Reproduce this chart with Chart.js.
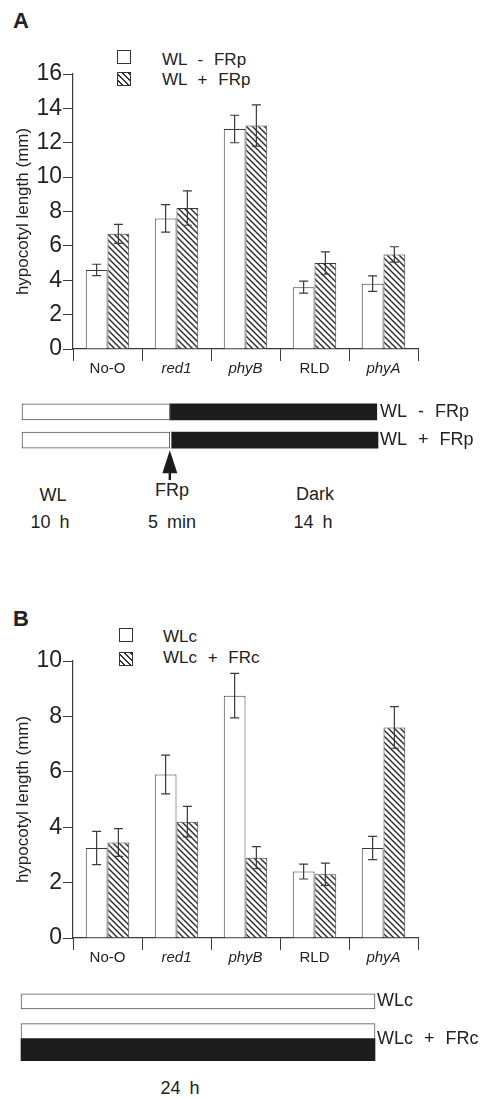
<!DOCTYPE html>
<html>
<head>
<meta charset="utf-8">
<script src="https://cdn.jsdelivr.net/npm/chart.js@4.4.1/dist/chart.umd.min.js"></script>
<style>
  body { margin: 0; background: #fff; }
  #page { position: relative; width: 483px; height: 1099px; overflow: hidden; font-family: "Liberation Sans", Arial, sans-serif; color: #222; }
  canvas { position: absolute; left: 0; }
  .txt { position: absolute; white-space: nowrap; line-height: 1; transform: translate(-50%, -50%); font-size: 18px; word-spacing: 4px; }
  .lbl { position: absolute; white-space: nowrap; line-height: 1; transform: translateY(-50%); font-size: 17px; word-spacing: 6px; }
  .panel { position: absolute; white-space: nowrap; line-height: 1; transform: translateY(-50%); font-size: 22px; font-weight: bold; }
  .sw { position: absolute; width: 12px; height: 12px; border: 1px solid #333; background: #fff; }
  .sw.hatch { background: repeating-linear-gradient(45deg, #fff 0 2.6px, #333 2.6px 4.2px); }
</style>
</head>
<body>
<div id="page">
  <div class="panel" style="left:13px;top:21px">A</div>
  <div class="sw" style="left:117px;top:50px"></div>
  <div class="sw hatch" style="left:117px;top:72px"></div>
  <div class="lbl" style="left:162px;top:59px">WL - FRp</div>
  <div class="lbl" style="left:162px;top:79px">WL + FRp</div>
  <canvas id="chartA" width="483" height="385" style="top:0"></canvas>
  <canvas id="timeA" width="483" height="95" style="top:385px"></canvas>
  <div class="txt" style="left:53px;top:495px">WL</div>
  <div class="txt" style="left:50px;top:522px">10 h</div>
  <div class="txt" style="left:172px;top:490px">FRp</div>
  <div class="txt" style="left:172px;top:522px">5 min</div>
  <div class="txt" style="left:315px;top:494px">Dark</div>
  <div class="txt" style="left:313px;top:522px">14 h</div>

  <div class="panel" style="left:13px;top:619px">B</div>
  <div class="sw" style="left:119px;top:628px"></div>
  <div class="sw hatch" style="left:119px;top:652px"></div>
  <div class="lbl" style="left:163px;top:636px">WLc</div>
  <div class="lbl" style="left:163px;top:657px">WLc + FRc</div>
  <canvas id="chartB" width="483" height="390" style="top:580px"></canvas>
  <canvas id="timeB" width="483" height="100" style="top:970px"></canvas>
  <div class="txt" style="left:180px;top:1088px">24 h</div>
</div>
<script>
const strains = ['No-O', 'red1', 'phyB', 'RLD', 'phyA'];
const italicStrains = ['red1', 'phyB', 'phyA'];

// A: white light, with or without an end-of-day far-red pulse
const yTicksA = [0, 2, 4, 6, 8, 10, 12, 14, 16];
const wlNoPulse = [4.6, 7.6, 12.8, 3.6, 3.8];
const wlNoPulseErr = [0.33, 0.8, 0.8, 0.35, 0.45];
const wlPulse = [6.7, 8.2, 13.0, 5.0, 5.5];
const wlPulseErr = [0.55, 1.0, 1.2, 0.65, 0.45];

// A: light schedule (hours)
const scheduleA = ['WL - FRp', 'WL + FRp'];
const lightHoursA = [10, 10];
const pulseHoursA = [0, 0.083];
const darkHoursA = [14, 14];
const pulseAtA = 10;

// B: continuous white light, with or without far-red
const yTicksB = [0, 2, 4, 6, 8, 10];
const wlc = [3.25, 5.9, 8.75, 2.4, 3.25];
const wlcErr = [0.6, 0.7, 0.8, 0.27, 0.42];
const wlcFrc = [3.45, 4.2, 2.9, 2.3, 7.6];
const wlcFrcErr = [0.5, 0.55, 0.4, 0.4, 0.75];

// B: light schedule (hours)
const scheduleB = ['WLc', 'WLc + FRc'];
const whiteHoursB = [24, 24];
const farRedHoursB = [null, 24];

const FONT = '"Liberation Sans", Arial, sans-serif';
const INK = '#222';
const LINE = '#3a3a3a';

function hatch() {
    const c = document.createElement('canvas');
    c.width = c.height = 6;
    const g = c.getContext('2d');
    g.fillStyle = '#fff';
    g.fillRect(0, 0, 6, 6);
    g.strokeStyle = '#2a2a2a';
    g.lineWidth = 1.4;
    g.beginPath();
    g.moveTo(-1, -1); g.lineTo(7, 7);
    g.moveTo(-1, 5); g.lineTo(1, 7);
    g.moveTo(5, -1); g.lineTo(7, 1);
    g.stroke();
    return g.createPattern(c, 'repeat');
}

const errorBars = {
    id: 'errorBars',
    afterDatasetsDraw(chart) {
        const { ctx, scales: { y } } = chart;
        ctx.save();
        ctx.strokeStyle = LINE;
        ctx.lineWidth = 1.2;
        chart.data.datasets.forEach((ds, i) => {
            if (!ds.errors) return;
            chart.getDatasetMeta(i).data.forEach((bar, j) => {
                const top = y.getPixelForValue(ds.data[j] + ds.errors[j]);
                const bot = y.getPixelForValue(ds.data[j] - ds.errors[j]);
                ctx.beginPath();
                ctx.moveTo(bar.x, top); ctx.lineTo(bar.x, bot);
                ctx.moveTo(bar.x - 4.5, top); ctx.lineTo(bar.x + 4.5, top);
                ctx.moveTo(bar.x - 4.5, bot); ctx.lineTo(bar.x + 4.5, bot);
                ctx.stroke();
            });
        });
        ctx.restore();
    }
};

// wider gaps between words, like the typeset labels
const wordGap = {
    id: 'wordGap',
    beforeDraw(chart) { chart.ctx.wordSpacing = '6px'; }
};

const pulseArrow = {
    id: 'pulseArrow',
    afterDatasetsDraw(chart) {
        const { ctx } = chart;
        const x = chart.scales.x.getPixelForValue(pulseAtA);
        const bar = chart.getDatasetMeta(0).data[1];
        const tip = bar.y + bar.height / 2 + 2;
        ctx.save();
        ctx.fillStyle = '#1c1c1c';
        ctx.beginPath();
        ctx.moveTo(x, tip);
        ctx.lineTo(x + 7.5, tip + 23);
        ctx.lineTo(x - 7.5, tip + 23);
        ctx.closePath();
        ctx.fill();
        ctx.fillRect(x - 1.2, tip + 15, 2.4, 16);
        ctx.restore();
    }
};

function barChart(id, ticks, series, padTop, axisH, tickLen) {
    return new Chart(document.getElementById(id), {
        type: 'bar',
        data: {
            labels: strains,
            datasets: series.map(s => ({
                label: s.label,
                data: s.data,
                errors: s.err,
                backgroundColor: s.fill,
                borderColor: LINE,
                borderWidth: 1,
                categoryPercentage: 0.63,
                barPercentage: 1
            }))
        },
        options: {
            responsive: false,
            animation: false,
            layout: { padding: { left: 0, right: 65, top: padTop, bottom: 0 } },
            plugins: { legend: { display: false }, tooltip: { enabled: false } },
            scales: {
                x: {
                    grid: { offset: true, drawOnChartArea: false, tickLength: tickLen, color: LINE },
                    border: { color: LINE, width: 1.2 },
                    ticks: {
                        padding: -1, color: INK, maxRotation: 0, autoSkip: false,
                        font: ctx => ({ family: FONT, size: 15, style: italicStrains.includes(strains[ctx.index]) ? 'italic' : 'normal' })
                    },
                    afterFit: s => { s.height = axisH; }
                },
                y: {
                    min: ticks[0],
                    max: ticks[ticks.length - 1],
                    ticks: { stepSize: ticks[1] - ticks[0], padding: 1, color: INK, font: { family: FONT, size: 23 } },
                    grid: { drawOnChartArea: false, tickLength: 10, color: LINE },
                    border: { color: LINE, width: 1.2 },
                    title: { display: true, text: 'hypocotyl length (mm)', color: INK, font: { family: FONT, size: 17 }, padding: { top: 13, bottom: 0 } },
                    afterFit: s => { s.width = 73; }
                }
            }
        },
        plugins: [errorBars]
    });
}

function scheduleChart(id, rows, datasets, xMax, pad, axisW, extra) {
    return new Chart(document.getElementById(id), {
        type: 'bar',
        data: { labels: rows, datasets },
        options: {
            indexAxis: 'y',
            responsive: false,
            animation: false,
            layout: { padding: pad },
            plugins: { legend: { display: false }, tooltip: { enabled: false } },
            scales: {
                x: { display: false, stacked: extra.stacked, min: 0, max: xMax },
                y: {
                    position: 'right',
                    stacked: extra.stacked,
                    grid: { display: false, drawTicks: false },
                    border: { display: false },
                    ticks: { padding: 2, color: INK, font: { family: FONT, size: 18 } },
                    afterFit: s => { s.width = axisW; }
                }
            }
        },
        plugins: [wordGap].concat(extra.plugins || [])
    });
}

const pattern = hatch();

barChart('chartA', yTicksA, [
    { label: 'WL - FRp', data: wlNoPulse, err: wlNoPulseErr, fill: '#fff' },
    { label: 'WL + FRp', data: wlPulse, err: wlPulseErr, fill: pattern }
], 74, 36, 12);

scheduleChart('timeA', scheduleA, [
    { label: 'WL', data: lightHoursA, backgroundColor: '#fff', borderColor: '#555', borderWidth: 1, borderSkipped: false, barThickness: 16, clip: false },
    { label: 'FRp', data: pulseHoursA, backgroundColor: '#fff', borderWidth: 0, barThickness: 16, clip: false },
    { label: 'Dark', data: darkHoursA, backgroundColor: '#1c1c1c', borderWidth: 0, barThickness: 16, clip: false }
], 24.083, { left: 22, right: 0, top: 2.25, bottom: 25.75 }, 105, { stacked: true, plugins: [pulseArrow] });

barChart('chartB', yTicksB, [
    { label: 'WLc', data: wlc, err: wlcErr, fill: '#fff' },
    { label: 'WLc + FRc', data: wlcFrc, err: wlcFrcErr, fill: pattern }
], 81, 32, 12);

scheduleChart('timeB', scheduleB, [
    { label: 'WL', data: whiteHoursB, backgroundColor: '#fff', borderColor: '#555', borderWidth: 1, borderSkipped: false, barThickness: 15, skipNull: true, clip: false },
    { label: 'FR', data: farRedHoursB, backgroundColor: '#1c1c1c', borderWidth: 0, barThickness: 22, skipNull: true, clip: false }
], 24, { left: 21, right: 0, top: 8.75, bottom: 12.25 }, 108, { stacked: false });
</script>
</body>
</html>
